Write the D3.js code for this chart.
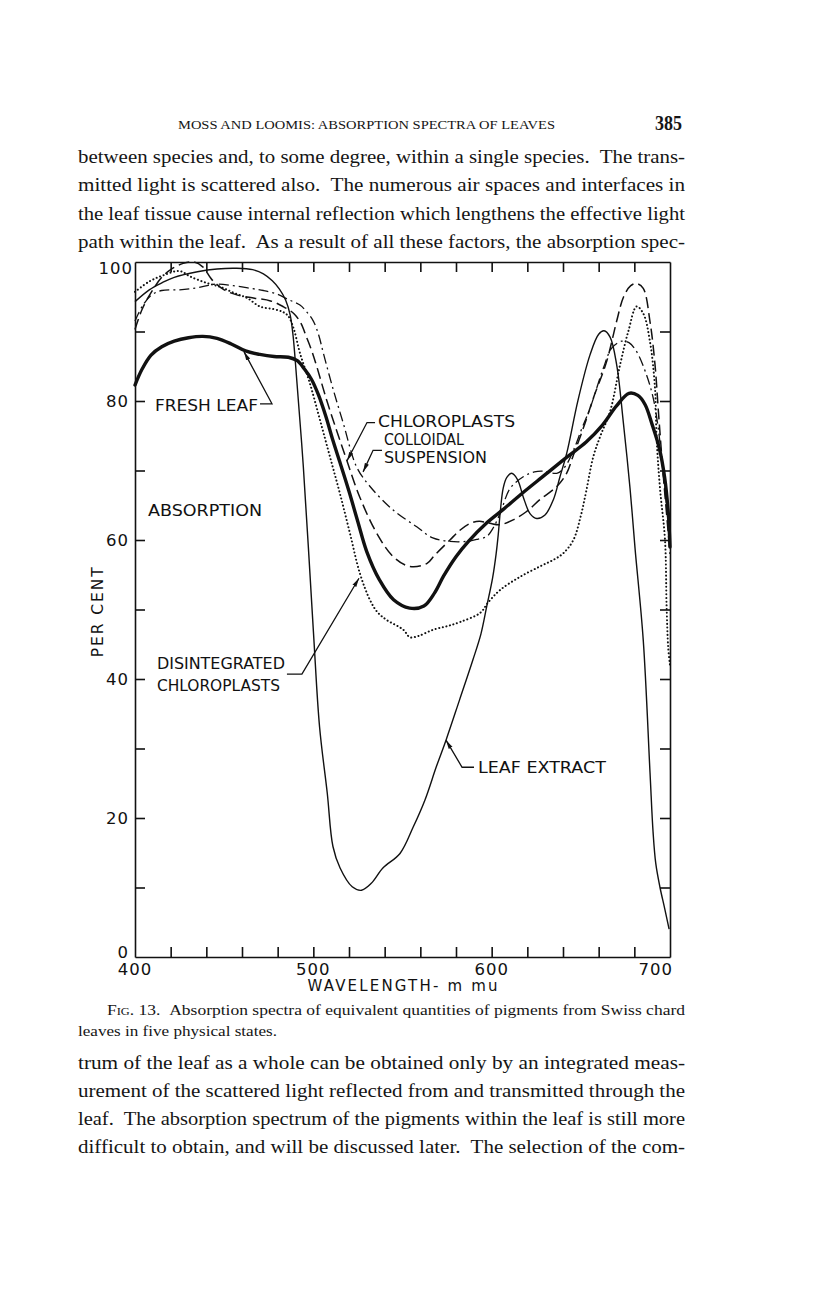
<!DOCTYPE html>
<html>
<head>
<meta charset="utf-8">
<script src="https://cdn.jsdelivr.net/npm/d3@7/dist/d3.min.js"></script>
<style>
    body { margin: 0; background: #fff; }
    svg { display: block; }
    .serif { font-family: "Liberation Serif", "DejaVu Serif", serif; fill: #151515; white-space: pre; }
    .lbl { font-family: "DejaVu Sans", "Liberation Sans", sans-serif; fill: #111; }
</style>
</head>
<body>
<div id="page"></div>
<script>
// curves: [wavelength (m mu), per cent absorption]
var freshLeaf = [[400, 82.3], [404, 84.6], [409, 86.6], [415, 87.8], [422, 88.6], [430, 89.1], [438, 89.3], [446, 89.0],
    [454, 88.2], [462, 87.2], [470, 86.7], [478, 86.4], [486, 86.3], [491, 85.8], [495, 84.6], [499, 83.1], [503, 80.8],
    [507, 77.8], [511, 74.3], [515, 71.1], [520, 67.0], [525, 62.6], [530, 58.3], [537, 54.3], [545, 51.4], [554, 50.2],
    [562, 50.5], [568, 52.4], [573, 54.8], [580, 57.6], [587, 59.8], [597, 62.4], [606, 64.3], [617, 66.7], [630, 69.4],
    [642, 71.9], [653, 74.1], [662, 76.5], [670, 79.3], [677, 81.1], [682, 80.8], [686, 79.5], [690, 76.6], [694, 73.2],
    [697, 69.0], [699, 64.0], [700, 59.0]];

var leafExtract = [[400, 94.3], [408, 96.0], [415, 97.0], [422, 97.8], [435, 98.6], [446, 99.0], [457, 99.1], [466, 98.9],
    [472, 98.3], [477, 97.3], [481, 96.1], [484.5, 94.5], [487, 92.4], [488.6, 89.5], [489.8, 86.0], [494.4, 70.5],
    [500, 47.0], [503.5, 33.1], [507.8, 23.6], [511, 15.9], [515, 12.8], [521.8, 10.1], [527, 9.6], [532.5, 10.6],
    [539, 12.8], [548.6, 14.9], [556, 18.7], [562.6, 22.6], [569, 27.4], [574.4, 31.2], [582, 37.0], [589.4, 42.7],
    [594, 46.5], [597.2, 50.4], [600.5, 54.5], [602.5, 58.0], [603.7, 60.8], [604.8, 64.0], [606.5, 67.5], [608.5, 69.0],
    [611.2, 69.6], [614.5, 68.7], [617.7, 66.2], [621.5, 63.8], [625.3, 63.1], [629.9, 63.6], [634.6, 65.8], [638.3, 69.1],
    [642.1, 72.5], [648.4, 80.1], [655.1, 86.6], [660, 89.6], [663, 90.1], [666.4, 89.2], [670.1, 85.2], [673.8, 77.0],
    [677.6, 67.4], [680.4, 58.8], [685, 45.6], [688.8, 26.5], [690.5, 18.0], [692, 13.5], [694.4, 10.0], [697, 7.0],
    [699.5, 4.0]];

var chloroplasts = [[400, 90.3], [404, 93.2], [409, 95.6], [415, 97.8], [420, 98.9], [427, 99.8], [433, 100], [438, 99.3],
    [443, 97.5], [450, 96.0], [458, 95.2], [467, 94.8], [476, 94.4], [483, 93.6], [489, 92.6], [493, 91.2], [496, 89.3],
    [499, 87.3], [502, 84.9], [507.5, 80.1], [513, 75.8], [518.7, 71.5], [526, 66.2], [535.5, 61.0], [544.8, 57.6],
    [554, 56.2], [563.6, 56.6], [568, 57.8], [576.6, 60.0], [582.2, 61.4], [588, 62.4], [593, 62.7], [599, 62.4],
    [604.7, 62.2], [612, 62.9], [619.6, 64.1], [627, 65.8], [636.5, 67.7], [642, 69.6], [645.8, 72.2], [651.4, 76.1],
    [657, 80.4], [664.5, 85.7], [670, 91.4], [674, 95.0], [678, 96.6], [681.3, 96.9], [685, 96.2], [688.8, 91.4],
    [691.6, 85.2], [693.5, 78.5], [696, 70.0], [698, 64.0], [700, 58.0]];

var colloidal = [[400, 91.5], [404, 93.6], [409, 95.2], [415, 95.9], [425, 96.0], [435, 96.3], [445, 96.8], [455, 96.6],
    [465, 96.2], [472, 95.9], [479.5, 95.4], [486, 94.6], [492.5, 93.8], [497, 92.6], [500, 91.5], [503, 89.5],
    [505.6, 86.9], [511.2, 81.6], [516.8, 76.8], [524.3, 70.5], [531.8, 67.7], [544.8, 64.3], [558, 61.9], [567, 60.3],
    [576.6, 59.8], [586, 59.8], [592, 60.1], [597.2, 60.5], [601, 61.8], [605, 64.0], [610.3, 67.4], [617.7, 69.1],
    [624, 69.8], [629, 69.9], [636.5, 69.6], [641, 70.5], [646, 73.0], [650.5, 76.0], [655.1, 78.9], [662.6, 84.7],
    [667.3, 87.6], [672.9, 88.6], [677, 88.4], [681.3, 87.1], [686.9, 83.7], [690.6, 80.4], [693.4, 76.1], [696, 70.0],
    [698, 65.0], [700, 60.0]];

var disintegrated = [[400, 95.7], [408, 97.2], [416, 98.1], [425, 98.7], [431, 97.9], [440, 97.0], [448, 96.4], [456, 95.5],
    [463, 94.8], [470, 93.6], [478, 93.2], [483, 92.8], [486, 92.2], [489, 90.4], [492.5, 86.9], [498.1, 82.5],
    [503.7, 77.3], [509.3, 72.0], [514.9, 66.7], [520.5, 61.0], [526.1, 55.2], [531.7, 51.4], [536, 49.6], [541.1, 48.5],
    [550.4, 47.1], [554.2, 46.0], [559, 46.2], [567.3, 47.1], [575, 47.6], [582.3, 48.2], [593.5, 49.5], [598, 51.0],
    [604.7, 52.8], [615.9, 54.7], [627.1, 56.2], [635, 57.2], [640.2, 58.1], [645.8, 60.0], [650, 63.5], [653, 67.0],
    [657, 72.0], [661, 75.0], [666.4, 78.5], [672, 85.2], [676.6, 90.0], [681.3, 93.6], [685, 92.6], [688.8, 88.5],
    [691.6, 81.8], [692.5, 74.6], [694.4, 67.4], [697.2, 60.0], [698.1, 50.4], [699, 44.5], [700, 42.0]];

var wlLabels = [400, 500, 600, 700];
var wlTicks = [420, 440, 460, 480, 500, 520, 540, 560, 580, 600, 620, 640, 660, 680];
var pctLabels = [0, 20, 40, 60, 80, 100];
var pctTicks = [10, 20, 30, 40, 50, 60, 70, 80, 90];

// page text around the figure
var runningHead = "MOSS AND LOOMIS: ABSORPTION SPECTRA OF LEAVES";
var pageNumber = "385";
var topLines = [
    "between species and, to some degree, within a single species.  The trans-",
    "mitted light is scattered also.  The numerous air spaces and interfaces in",
    "the leaf tissue cause internal reflection which lengthens the effective light",
    "path within the leaf.  As a result of all these factors, the absorption spec-"
];
var captionLines = [
    "Absorption spectra of equivalent quantities of pigments from Swiss chard",
    "leaves in five physical states."
];
var bottomLines = [
    "trum of the leaf as a whole can be obtained only by an integrated meas-",
    "urement of the scattered light reflected from and transmitted through the",
    "leaf.  The absorption spectrum of the pigments within the leaf is still more",
    "difficult to obtain, and will be discussed later.  The selection of the com-"
];

(function () {
    "use strict";

    var W = 816, H = 1299;
    var margin = { top: 262, left: 135 },
        width = 535,
        height = 695;

    var page = d3.select("#page").append("svg")
        .attr("width", W)
        .attr("height", H);

    page.append("rect").attr("width", W).attr("height", H).attr("fill", "#fff");

    page.append("defs").append("marker")
        .attr("id", "arr")
        .attr("viewBox", "0 0 10 10")
        .attr("refX", 10).attr("refY", 5)
        .attr("markerWidth", 9).attr("markerHeight", 9)
        .attr("markerUnits", "userSpaceOnUse")
        .attr("orient", "auto")
        .append("path")
        .attr("d", "M0,2.6 L10,5 L0,7.4 z")
        .attr("fill", "#111");

    // ---- page text ----
    page.append("text").attr("class", "serif")
        .attr("x", 178).attr("y", 129)
        .attr("font-size", 13.5)
        .attr("textLength", 377).attr("lengthAdjust", "spacingAndGlyphs")
        .text(runningHead);
    page.append("text").attr("class", "serif")
        .attr("x", 655).attr("y", 130)
        .attr("font-size", 20).attr("font-weight", "bold")
        .attr("textLength", 27).attr("lengthAdjust", "spacingAndGlyphs")
        .text(pageNumber);

    topLines.forEach(function (line, i) {
        page.append("text").attr("class", "serif")
            .attr("x", 78).attr("y", 163 + i * 28.4)
            .attr("font-size", 19.5)
            .attr("textLength", 607).attr("lengthAdjust", "spacingAndGlyphs")
            .text(line);
    });

    var cap = page.append("text").attr("class", "serif")
        .attr("x", 107).attr("y", 1015)
        .attr("font-size", 15.5)
        .attr("textLength", 578).attr("lengthAdjust", "spacingAndGlyphs");
    cap.append("tspan").style("font-variant", "small-caps").text("Fig. 13.  ");
    cap.append("tspan").text(captionLines[0]);
    page.append("text").attr("class", "serif")
        .attr("x", 78).attr("y", 1036)
        .attr("font-size", 15.5)
        .attr("textLength", 199).attr("lengthAdjust", "spacingAndGlyphs")
        .text(captionLines[1]);

    bottomLines.forEach(function (line, i) {
        page.append("text").attr("class", "serif")
            .attr("x", 78).attr("y", 1069 + i * 28)
            .attr("font-size", 19.5)
            .attr("textLength", 607).attr("lengthAdjust", "spacingAndGlyphs")
            .text(line);
    });

    // ---- the figure ----
    var svg = page.append("g")
        .attr("transform", "translate(" + margin.left + "," + margin.top + ")");

    var x = d3.scaleLinear().domain([400, 700]).range([0, width]);
    var y = d3.scaleLinear().domain([0, 100]).range([height, 0]);

    // frame with inward ticks on all four sides
    function styleAxis(g) {
        g.selectAll("path, line").attr("stroke", "#111").attr("stroke-width", 1.6);
        g.selectAll("text").remove();
    }
    svg.append("g")
        .call(d3.axisLeft(y).tickValues(pctTicks).tickSize(-10).tickSizeOuter(0))
        .call(styleAxis);
    svg.append("g")
        .attr("transform", "translate(" + width + ",0)")
        .call(d3.axisRight(y).tickValues(pctTicks).tickSize(-10).tickSizeOuter(0))
        .call(styleAxis);
    svg.append("g")
        .call(d3.axisTop(x).tickValues(wlTicks).tickSize(-10).tickSizeOuter(0))
        .call(styleAxis);
    svg.append("g")
        .attr("transform", "translate(0," + height + ")")
        .call(d3.axisBottom(x).tickValues(wlTicks).tickSize(-10).tickSizeOuter(0))
        .call(styleAxis);

    // tick labels
    svg.selectAll("pctLabel")
        .data(pctLabels)
        .enter()
        .append("text")
        .attr("class", "lbl")
        .attr("x", function (d) { return d === 100 ? -2 : -6; })
        .attr("y", function (d) { return y(d) + (d === 100 ? 6 : d === 0 ? -5 : 0); })
        .attr("dy", "0.36em")
        .attr("text-anchor", "end")
        .attr("font-size", 16.5)
        .attr("letter-spacing", 1)
        .text(function (d) { return d; });

    svg.selectAll("wlLabel")
        .data(wlLabels)
        .enter()
        .append("text")
        .attr("class", "lbl")
        .attr("x", function (d) { return d === 700 ? x(d) + 3 : x(d); })
        .attr("y", height + 18)
        .attr("text-anchor", function (d) { return d === 700 ? "end" : "middle"; })
        .attr("font-size", 16.5)
        .attr("letter-spacing", 1)
        .text(function (d) { return d; });

    // axis titles
    svg.append("text").attr("class", "lbl")
        .attr("x", x(550)).attr("y", height + 34)
        .attr("font-size", 15)
        .attr("text-anchor", "middle")
        .attr("textLength", 190).attr("lengthAdjust", "spacing")
        .text("WAVELENGTH- m mu");
    svg.append("text").attr("class", "lbl")
        .attr("transform", "translate(-32," + y(49.6) + ") rotate(-90)")
        .attr("font-size", 15.5)
        .attr("text-anchor", "middle")
        .attr("textLength", 90).attr("lengthAdjust", "spacing")
        .text("PER CENT");

    // the five curves
    var series = [
        { name: "chloroplasts", values: chloroplasts, width: 1.5, dash: "11,5", cap: "butt" },
        { name: "colloidal", values: colloidal, width: 1.3, dash: "10,4,2,4", cap: "butt" },
        { name: "disintegrated", values: disintegrated, width: 2, dash: "0.1,3.6", cap: "round" },
        { name: "leafExtract", values: leafExtract, width: 1.4, dash: null, cap: "butt" },
        { name: "freshLeaf", values: freshLeaf, width: 3.4, dash: null, cap: "round" }
    ];

    var line = d3.line()
        .x(function (d) { return x(d[0]); })
        .y(function (d) { return y(d[1]); })
        .curve(d3.curveCatmullRom.alpha(0.5));

    svg.selectAll("curves")
        .data(series)
        .enter()
        .append("path")
        .attr("class", function (d) { return d.name; })
        .attr("d", function (d) { return line(d.values); })
        .attr("fill", "none")
        .attr("stroke", "#111")
        .attr("stroke-width", function (d) { return d.width; })
        .attr("stroke-dasharray", function (d) { return d.dash; })
        .attr("stroke-linecap", function (d) { return d.cap; })
        .attr("stroke-linejoin", "round");

    // labels on the plot (position in data units)
    var notes = [
        { t: "ABSORPTION", wl: 407.3, v: 64.3, len: 114 },
        { t: "FRESH LEAF", wl: 411.2, v: 79.3, len: 103 },
        { t: "CHLOROPLASTS", wl: 536.3, v: 77.1, len: 137 },
        { t: "COLLOIDAL", wl: 539.6, v: 74.4, len: 80 },
        { t: "SUSPENSION", wl: 539.6, v: 71.8, len: 103 },
        { t: "DISINTEGRATED", wl: 412.3, v: 42.2, len: 128 },
        { t: "CHLOROPLASTS", wl: 412.3, v: 39.0, len: 123 },
        { t: "LEAF EXTRACT", wl: 592.3, v: 27.2, len: 128 }
    ];
    svg.selectAll("notes")
        .data(notes)
        .enter()
        .append("text")
        .attr("class", "lbl")
        .attr("x", function (d) { return x(d.wl); })
        .attr("y", function (d) { return y(d.v); })
        .attr("dy", "0.36em")
        .attr("font-size", 15)
        .attr("textLength", function (d) { return d.len; })
        .attr("lengthAdjust", "spacingAndGlyphs")
        .text(function (d) { return d.t; });

    // leader lines with arrow heads
    var leaders = [
        [[470.1, 79.6], [476.8, 79.6], [461.1, 87.1]],
        [[534.6, 76.9], [530.1, 76.9], [518.9, 71.4]],
        [[538.5, 72.9], [533.5, 72.9], [527.9, 69.8]],
        [[485.2, 40.7], [493.6, 40.7], [525.6, 54.5]],
        [[590.1, 27.3], [583.4, 27.3], [574.4, 31.2]]
    ];
    var leaderLine = d3.line()
        .x(function (d) { return x(d[0]); })
        .y(function (d) { return y(d[1]); });
    svg.selectAll("leaders")
        .data(leaders)
        .enter()
        .append("path")
        .attr("d", leaderLine)
        .attr("fill", "none")
        .attr("stroke", "#111")
        .attr("stroke-width", 1.3)
        .attr("marker-end", "url(#arr)");
})();
</script>
</body>
</html>
